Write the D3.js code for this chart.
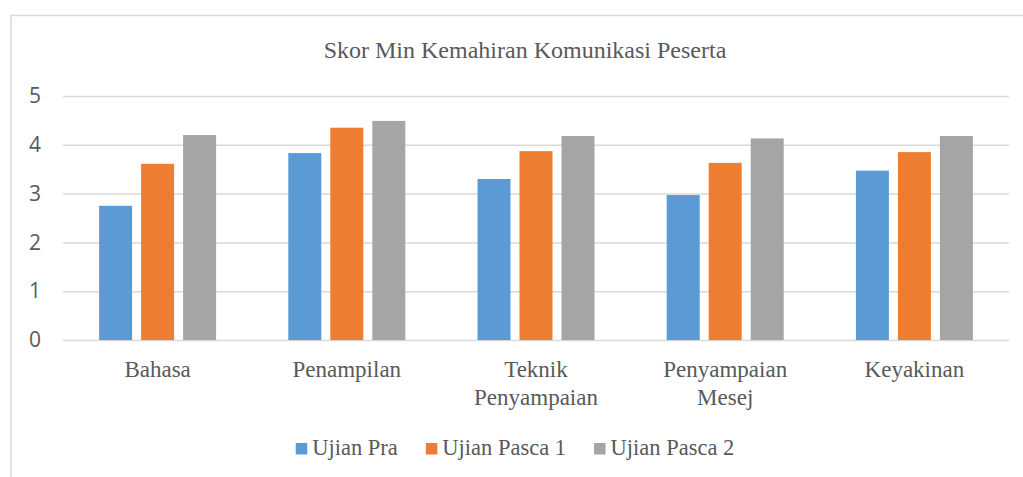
<!DOCTYPE html>
<html>
<head>
    <title>Skor Min Kemahiran Komunikasi Peserta</title>
    <script src="https://cdnjs.cloudflare.com/ajax/libs/d3/7.8.5/d3.min.js"></script>
    <style>
        body {
            margin: 0;
            background-color: white;
        }
        #chart {
            width: 1023px;
            height: 477px;
        }
        .serif {
            font-family: "Liberation Serif", "Times New Roman", serif;
            fill: #595959;
        }
    </style>
</head>
<body>
    <div id="chart"></div>

    <script>
        // Data
        const categories = ['Bahasa', 'Penampilan', 'Teknik\nPenyampaian', 'Penyampaian\nMesej', 'Keyakinan'];
        const seriesNames = ['Ujian Pra', 'Ujian Pasca 1', 'Ujian Pasca 2'];
        const ujianPra = [2.75, 3.83, 3.30, 2.97, 3.47];
        const ujianPasca1 = [3.61, 4.35, 3.87, 3.63, 3.85];
        const ujianPasca2 = [4.20, 4.49, 4.18, 4.13, 4.18];
        const yTicks = [0, 1, 2, 3, 4, 5];
        const colors = ['#5B9BD5', '#ED7D31', '#A5A5A5'];

        const seriesValues = [ujianPra, ujianPasca1, ujianPasca2];
        const data = categories.map((c, i) => ({
            category: c,
            values: seriesNames.map((s, j) => ({ series: s, value: seriesValues[j][i] }))
        }));

        const width = 1023, height = 477;
        const plot = { left: 63, right: 1009, top: 96, bottom: 340 };

        const svg = d3.select('#chart')
            .append('svg')
                .attr('width', width)
                .attr('height', height);

        // Chart border (runs off the right and bottom of the picture)
        svg.append('rect')
            .attr('x', 11)
            .attr('y', 15.5)
            .attr('width', 1040)
            .attr('height', 500)
            .attr('fill', 'none')
            .attr('stroke', '#d9d9d9')
            .attr('stroke-width', 1.5);

        // Title
        svg.append('text')
            .attr('class', 'serif')
            .attr('x', 525)
            .attr('y', 58)
            .attr('text-anchor', 'middle')
            .style('font-size', '24px')
            .text('Skor Min Kemahiran Komunikasi Peserta');

        // Scales
        const x0 = d3.scaleBand()
            .domain(categories)
            .range([plot.left, plot.right])
            .padding(0);

        const x1 = d3.scaleBand()
            .domain(seriesNames)
            .range([0, 117])
            .paddingInner(9 / 42)
            .paddingOuter(0);

        const y = d3.scaleLinear()
            .domain([0, 5])
            .range([plot.bottom, plot.top]);

        // Y axis with gridlines
        const yAxis = svg.append('g')
            .attr('transform', `translate(${plot.left},0)`)
            .call(d3.axisLeft(y)
                .tickValues(yTicks)
                .tickFormat(d3.format('d'))
                .tickSize(-(plot.right - plot.left))
                .tickPadding(22));

        yAxis.select('.domain').remove();
        yAxis.selectAll('.tick line')
            .attr('stroke', '#d9d9d9')
            .attr('stroke-width', 1.5);
        yAxis.selectAll('.tick text')
            .attr('fill', '#595959')
            .style('font-family', '"Open Sans", "Liberation Sans", Arial, sans-serif')
            .style('font-size', '21px');

        // Bars
        const groupOffset = (x0.bandwidth() - 117) / 2;
        const groups = svg.append('g')
            .selectAll('g')
            .data(data)
            .join('g')
                .attr('transform', d => `translate(${x0(d.category) + groupOffset},0)`);

        groups.selectAll('rect')
            .data(d => d.values)
            .join('rect')
                .attr('x', d => x1(d.series))
                .attr('y', d => y(d.value))
                .attr('width', x1.bandwidth())
                .attr('height', d => y(0) - y(d.value))
                .attr('fill', (d, i) => colors[i]);

        // Category labels
        const xLabels = svg.append('g')
            .selectAll('text')
            .data(categories)
            .join('text')
                .attr('class', 'serif')
                .attr('text-anchor', 'middle')
                .attr('x', d => x0(d) + x0.bandwidth() / 2)
                .attr('y', 377)
                .style('font-size', '23px');

        xLabels.selectAll('tspan')
            .data(d => d.split('\n'))
            .join('tspan')
                .attr('x', function() { return this.parentNode.getAttribute('x'); })
                .attr('dy', (d, i) => i === 0 ? 0 : 28)
                .text(d => d);

        // Legend
        const legend = svg.append('g');
        const items = legend.selectAll('g')
            .data(seriesNames)
            .join('g');

        items.append('rect')
            .attr('y', 443)
            .attr('width', 11.5)
            .attr('height', 11.5)
            .attr('fill', (d, i) => colors[i]);

        items.append('text')
            .attr('class', 'serif')
            .attr('x', 16.5)
            .attr('y', 455)
            .style('font-size', '22.5px')
            .text(d => d);

        // Lay legend items out side by side, centred
        let offset = 0;
        const positions = [];
        items.each(function() {
            const w = this.getBBox().width;
            positions.push(offset);
            offset += w + 28;
        });
        const total = offset - 28;
        const start = 515 - total / 2;
        items.attr('transform', (d, i) => `translate(${start + positions[i]},0)`);
    </script>
</body>
</html>
